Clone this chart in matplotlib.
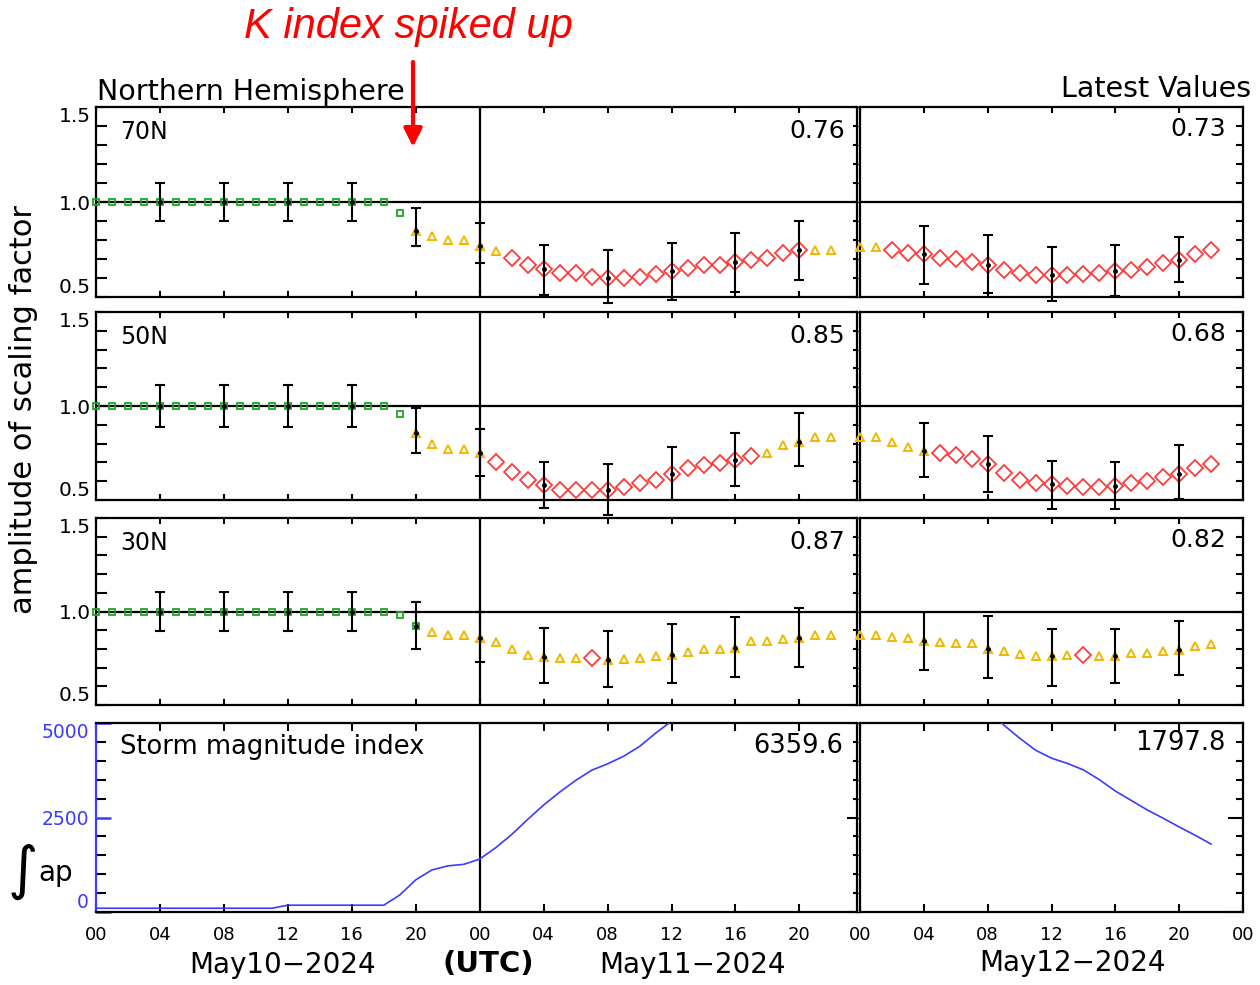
import matplotlib
matplotlib.use("Agg")
import matplotlib.pyplot as plt
from matplotlib.ticker import MultipleLocator, FixedLocator
from matplotlib.patches import FancyArrowPatch

# ---------------- data ----------------
hours_left = list(range(0, 47))     # May10 00UT .. May11 22UT
hours_right = list(range(0, 23))    # May12 00UT .. 22UT

n70_left = [1.0] * 19 + [0.94, 0.85, 0.82, 0.80, 0.80, 0.77, 0.74, 0.705, 0.668, 0.647, 0.626,
                         0.626, 0.605, 0.60, 0.60, 0.605, 0.62, 0.637, 0.652, 0.668, 0.668, 0.684,
                         0.695, 0.705, 0.73, 0.747, 0.747, 0.747]
n70_left_kind = 'g' * 20 + 'y' * 6 + 'r' * 19 + 'y' * 2
n50_left = [1.0] * 19 + [0.96, 0.855, 0.80, 0.77, 0.77, 0.75, 0.70, 0.65, 0.605, 0.58, 0.553,
                         0.553, 0.553, 0.553, 0.57, 0.59, 0.605, 0.636, 0.67, 0.685, 0.695, 0.715,
                         0.735, 0.75, 0.79, 0.81, 0.835, 0.835]
n50_left_kind = 'g' * 20 + 'y' * 5 + 'r' * 17 + 'y' * 5
n30_left = [1.0] * 19 + [0.98, 0.925, 0.89, 0.875, 0.875, 0.86, 0.835, 0.80, 0.77, 0.755, 0.75,
                         0.75, 0.75, 0.74, 0.745, 0.75, 0.76, 0.77, 0.785, 0.80, 0.80, 0.805,
                         0.84, 0.84, 0.855, 0.86, 0.875, 0.875]
n30_left_kind = 'g' * 21 + 'y' * 10 + 'r' + 'y' * 15

n70_right = [0.763, 0.763, 0.747, 0.73, 0.726, 0.705, 0.70, 0.684, 0.668, 0.642, 0.626, 0.616,
             0.616, 0.616, 0.62, 0.626, 0.637, 0.642, 0.658, 0.68, 0.695, 0.726, 0.747]
n70_right_kind = 'y' * 2 + 'r' * 21
n50_right = [0.835, 0.835, 0.81, 0.78, 0.76, 0.75, 0.74, 0.72, 0.69, 0.645, 0.605, 0.59,
             0.585, 0.575, 0.57, 0.57, 0.575, 0.59, 0.60, 0.62, 0.64, 0.67, 0.69]
n50_right_kind = 'y' * 5 + 'r' * 18
n30_right = [0.875, 0.875, 0.865, 0.86, 0.84, 0.835, 0.83, 0.83, 0.80, 0.79, 0.775, 0.76,
             0.76, 0.765, 0.765, 0.76, 0.76, 0.78, 0.78, 0.79, 0.795, 0.815, 0.825]
n30_right_kind = 'y' * 14 + 'r' + 'y' * 8

err_hours_left = [4, 8, 12, 16, 20, 24, 28, 32, 36, 40, 44]
err_hours_right = [4, 8, 12, 16, 20]
n70_left_lo = [0.9, 0.9, 0.9, 0.9, 0.77, 0.68, 0.51, 0.47, 0.484, 0.526, 0.59]
n70_left_hi = [1.1, 1.1, 1.1, 1.1, 0.97, 0.89, 0.774, 0.747, 0.785, 0.836, 0.9]
n50_left_lo = [0.89, 0.89, 0.89, 0.89, 0.75, 0.63, 0.46, 0.42, 0.50, 0.575, 0.68]
n50_left_hi = [1.11, 1.11, 1.11, 1.11, 0.99, 0.88, 0.70, 0.69, 0.78, 0.855, 0.965]
n30_left_lo = [0.895, 0.895, 0.895, 0.895, 0.80, 0.73, 0.62, 0.595, 0.62, 0.65, 0.705]
n30_left_hi = [1.105, 1.105, 1.105, 1.105, 1.05, 1.0, 0.91, 0.895, 0.935, 0.97, 1.02]
n70_right_lo = [0.568, 0.52, 0.48, 0.505, 0.58]
n70_right_hi = [0.874, 0.826, 0.763, 0.774, 0.815]
n50_right_lo = [0.62, 0.545, 0.45, 0.45, 0.505]
n50_right_hi = [0.91, 0.84, 0.71, 0.70, 0.79]
n30_right_lo = [0.685, 0.645, 0.60, 0.62, 0.66]
n30_right_hi = [1.0, 0.975, 0.905, 0.905, 0.95]

storm_left = [100] * 12 + [180] * 7 + [450, 850, 1110, 1220, 1260, 1400, 1700, 2050, 2450, 2830,
                                       3170, 3480, 3750, 3920, 4120, 4380, 4730, 5050, 5350, 5600,
                                       5800, 5950, 6080, 6180, 6250, 6300, 6340, 6359.6]
storm_right = [7600, 7400, 7150, 6900, 6600, 6300, 6000, 5700, 5350, 4950, 4600, 4280, 4070,
               3930, 3760, 3500, 3200, 2950, 2700, 2480, 2250, 2030, 1797.8]

latitudes = ['70N', '50N', '30N']
latest_left = ['0.76', '0.85', '0.87']
latest_right = ['0.73', '0.68', '0.82']
storm_latest_left = '6359.6'
storm_latest_right = '1797.8'
xlabels_left = ['00', '04', '08', '12', '16', '20', '00', '04', '08', '12', '16', '20']
xlabels_right = ['00', '04', '08', '12', '16', '20', '00']
day_labels = ['May10\u22122024', 'May11\u22122024', 'May12\u22122024']

# ---------------- layout ----------------
plt.rcParams['font.family'] = ['DejaVu Sans']
W, H = 1260.0, 985.0
fig = plt.figure(figsize=(12.6, 9.85), dpi=100)


def box(x0, y0, x1, y1):
    return [x0 / W, 1 - y1 / H, (x1 - x0) / W, (y1 - y0) / H]


def fxy(x, y):
    return x / W, 1 - y / H


rows = [(107, 297), (312, 500), (518, 705), (723, 912)]
LX = (96, 857)
RX = (860, 1243)
GREEN = '#1fa51f'
GOLD = '#f2b800'
RED = '#ff3b3b'
BLUE = '#3b3bff'
styles = {'g': dict(marker='s', ms=5, mec=GREEN, mew=1.3),
          'y': dict(marker='^', ms=6.3, mec=GOLD, mew=1.4),
          'r': dict(marker='D', ms=8.5, mec=RED, mew=1.3)}
SPW = 1.6


def base_axes(rect, xmax):
    ax = fig.add_axes(rect)
    ax.set_xlim(0, xmax)
    ax.xaxis.set_major_locator(MultipleLocator(4))
    ax.tick_params(axis='x', which='both', direction='in', top=True, bottom=True,
                   length=4, width=1.5, labelbottom=False)
    for s in ax.spines.values():
        s.set_linewidth(SPW)
    return ax


def right_ticks(ax, ylim, major, minor, lmaj, lmin):
    tw = ax.twinx()
    tw.set_ylim(*ylim)
    tw.yaxis.set_major_locator(FixedLocator(major))
    tw.yaxis.set_minor_locator(MultipleLocator(minor))
    tw.tick_params(axis='y', which='major', direction='in', length=lmaj, width=1.5, labelright=False)
    tw.tick_params(axis='y', which='minor', direction='in', length=lmin, width=1.5)
    for s in tw.spines.values():
        s.set_visible(False)
    return tw


def scale_panel(rect, xmax, hours, vals, kinds, eh, elo, ehi, is_left):
    ax = base_axes(rect, xmax)
    ax.set_ylim(0.5, 1.5)
    ax.yaxis.set_major_locator(FixedLocator([0.5, 1.0, 1.5]))
    ax.yaxis.set_minor_locator(MultipleLocator(0.1))
    if is_left:
        ax.tick_params(axis='y', which='both', direction='in', left=True, right=False,
                       length=8, width=1.5, labelsize=14.5, pad=4)
        ax.set_yticklabels(['0.5', '1.0', '1.5'])
        ticks = ax.yaxis.get_major_ticks()
        ticks[0].label1.set_va('bottom')
        ticks[2].label1.set_va('top')
        ax.axvline(24, color='k', lw=SPW, zorder=1.5)
        right_ticks(ax, (0.5, 1.5), [0.5, 1.0, 1.5], 0.1, 4, 3)
    else:
        ax.tick_params(axis='y', which='both', left=False, right=False, labelleft=False)
        right_ticks(ax, (0.5, 1.5), [0.5, 1.0, 1.5], 0.1, 5, 5)
    ax.axhline(1.0, color='k', lw=SPW, zorder=1.5)
    for kind in 'gyr':
        xs = [h for h, k in zip(hours, kinds) if k == kind]
        ys = [v for v, k in zip(vals, kinds) if k == kind]
        ax.plot(xs, ys, ls='none', mfc='none', zorder=3, clip_on=False, **styles[kind])
    centers = [vals[hours.index(h)] for h in eh]
    yerr = [[c - lo for c, lo in zip(centers, elo)], [hi - c for c, hi in zip(centers, ehi)]]
    eb = ax.errorbar(eh, centers, yerr=yerr, fmt='none', ecolor='k', elinewidth=1.5,
                     capsize=3.5, capthick=1.5, zorder=4)
    for art in list(eb.lines[1]) + list(eb.lines[2]):
        art.set_clip_on(False)
    ax.plot(eh, centers, ls='none', marker='o', ms=2.5, color='k', zorder=5, clip_on=False)
    return ax


def storm_panel(rect, xmax, hours, vals, xlabels, is_left):
    ax = base_axes(rect, xmax)
    ax.set_ylim(0, 5000)
    ax.yaxis.set_major_locator(FixedLocator([0, 2500, 5000]))
    ax.yaxis.set_minor_locator(MultipleLocator(500))
    ax.set_xticks(list(range(0, 4 * len(xlabels), 4)))
    ax.set_xticklabels(xlabels)
    ax.tick_params(axis='x', which='major', length=6, labelbottom=True, labelsize=13, pad=10)
    if is_left:
        ax.tick_params(axis='y', which='major', direction='in', left=True, right=False,
                       length=11, width=1.8, color=BLUE, labelcolor=BLUE, labelsize=13.5, pad=5)
        ax.tick_params(axis='y', which='minor', direction='in', left=True, right=False,
                       length=7, width=1.5, color='k')
        ax.set_yticklabels(['0', '2500', '5000'])
        ticks = ax.yaxis.get_major_ticks()
        ticks[0].label1.set_va('bottom')
        ticks[2].label1.set_va('top')
        ax.spines['left'].set_color(BLUE)
        ax.axvline(24, color='k', lw=SPW, zorder=1.5)
        right_ticks(ax, (0, 5000), [0, 2500, 5000], 500, 7, 3)
    else:
        ax.tick_params(axis='y', which='both', left=False, right=False, labelleft=False)
        right_ticks(ax, (0, 5000), [0, 2500, 5000], 500, 11, 5)
    ax.plot(hours, vals, color=BLUE, lw=1.2, zorder=3)
    return ax


left_sets = [(n70_left, n70_left_kind, n70_left_lo, n70_left_hi),
             (n50_left, n50_left_kind, n50_left_lo, n50_left_hi),
             (n30_left, n30_left_kind, n30_left_lo, n30_left_hi)]
right_sets = [(n70_right, n70_right_kind, n70_right_lo, n70_right_hi),
              (n50_right, n50_right_kind, n50_right_lo, n50_right_hi),
              (n30_right, n30_right_kind, n30_right_lo, n30_right_hi)]

for i in range(3):
    y0, y1 = rows[i]
    v, k, lo, hi = left_sets[i]
    scale_panel(box(LX[0], y0, LX[1], y1), 47.6, hours_left, v, k, err_hours_left, lo, hi, True)
    v, k, lo, hi = right_sets[i]
    scale_panel(box(RX[0], y0, RX[1], y1), 24, hours_right, v, k, err_hours_right, lo, hi, False)
    fig.text(*fxy(120, y0 + 25), latitudes[i], fontsize=17, va='center', ha='left')
    fig.text(*fxy(845, y0 + 24), latest_left[i], fontsize=18, va='center', ha='right')
    fig.text(*fxy(1226, y0 + 22), latest_right[i], fontsize=18, va='center', ha='right')

y0, y1 = rows[3]
storm_panel(box(LX[0], y0, LX[1], y1), 47.6, hours_left, storm_left, xlabels_left, True)
storm_panel(box(RX[0], y0, RX[1], y1), 24, hours_right, storm_right, xlabels_right, False)
fig.text(*fxy(120, 747), 'Storm magnitude index', fontsize=18.5, va='center', ha='left')
fig.text(*fxy(843, 746), storm_latest_left, fontsize=18.5, va='center', ha='right')
fig.text(*fxy(1226, 743), storm_latest_right, fontsize=18.5, va='center', ha='right')

# headers / axis texts
fig.text(*fxy(97, 92), 'Northern Hemisphere', fontsize=20.5, va='center', ha='left')
fig.text(*fxy(1251, 89), 'Latest Values', fontsize=20.5, va='center', ha='right')
fig.text(*fxy(24, 410), 'amplitude of scaling factor', fontsize=22, rotation=90,
         va='center', ha='center')
fig.text(*fxy(23, 872), '\u222b', fontsize=42, va='center', ha='center')
fig.text(*fxy(38, 873), 'ap', fontsize=20, va='center', ha='left')

fig.text(*fxy(283, 965), day_labels[0], fontsize=20, va='center', ha='center')
fig.text(*fxy(692, 965), day_labels[1], fontsize=20, va='center', ha='center')
fig.text(*fxy(1072, 963), day_labels[2], fontsize=20, va='center', ha='center')
fig.text(*fxy(488, 964), '(UTC)', fontsize=21, fontweight='bold', va='center', ha='center')

# annotation
fig.text(*fxy(408, 27), 'K index spiked up', fontsize=30, color='#ff0000', style='italic',
         family='Liberation Sans', va='center', ha='center')
arrow = FancyArrowPatch(fxy(413, 62), fxy(413, 147), transform=fig.transFigure,
                        arrowstyle='-|>,head_length=1.1,head_width=0.55', mutation_scale=10,
                        color='#ff0000', lw=3, shrinkA=0, shrinkB=0)
fig.add_artist(arrow)

fig.savefig('out.png', dpi=100)
